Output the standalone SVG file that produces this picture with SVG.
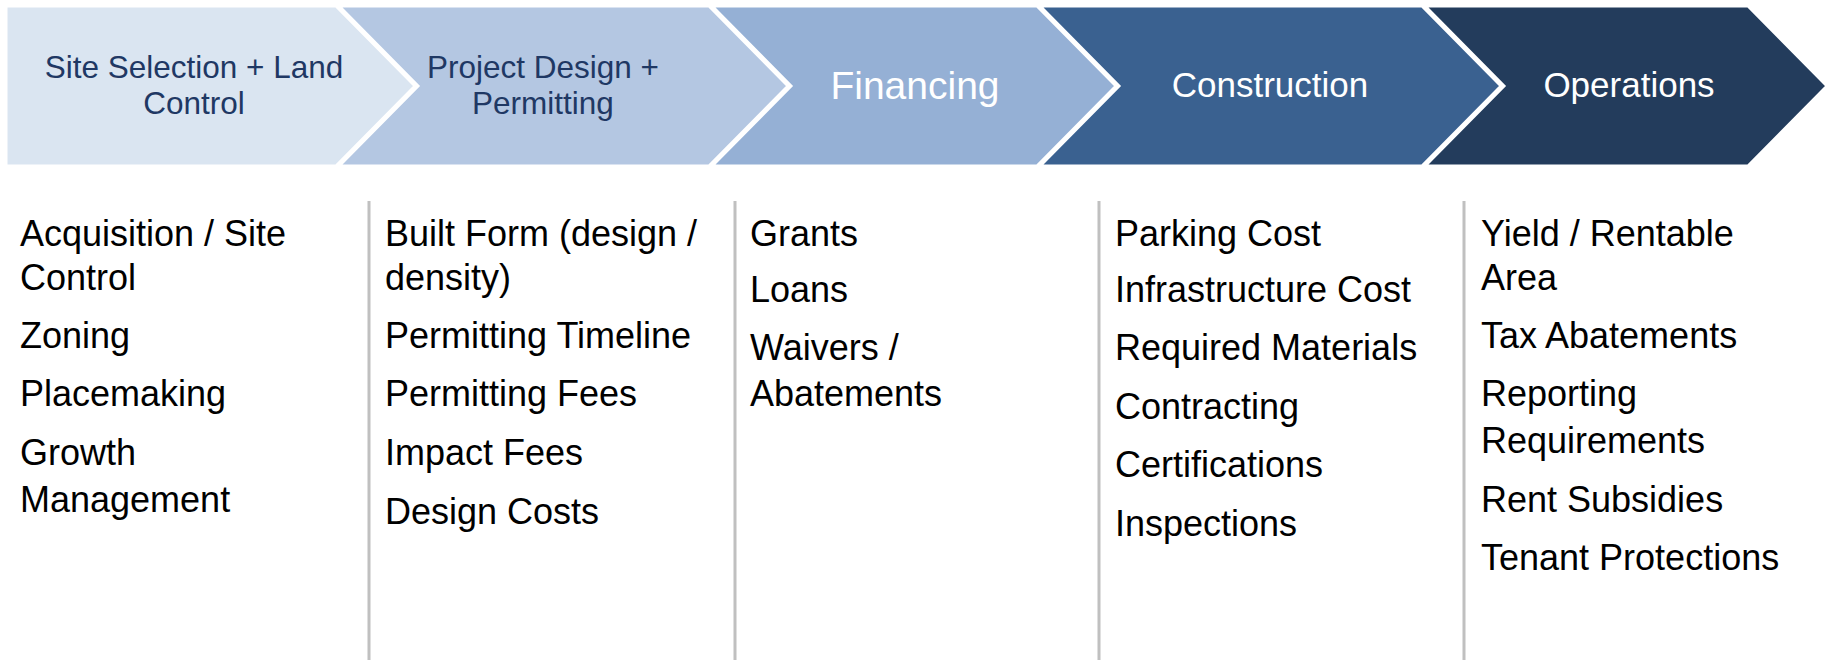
<svg xmlns="http://www.w3.org/2000/svg" width="1831" height="666" viewBox="0 0 1831 666">
<style>
.chev{stroke:#ffffff;stroke-width:3;stroke-linejoin:miter}
.hd{font-family:"Liberation Sans",Arial,sans-serif;text-anchor:middle}
.dark{fill:#1f3864}
.light{fill:#ffffff}
.item{font-family:"Liberation Sans",Arial,sans-serif;font-size:36px;fill:#000000}
.sep{stroke:#c0c0c0;stroke-width:3}
</style>
<rect width="1831" height="666" fill="#ffffff"/>
<g id="stage-site">
<polygon class="chev" fill="#dae5f1" points="6,6 336,6 415,86 336,166 6,166"/>
<text class="hd dark" font-size="31.5" x="194" y="78">Site Selection + Land</text>
<text class="hd dark" font-size="31.5" x="194" y="114">Control</text>
</g>
<g id="stage-design">
<polygon class="chev" fill="#b4c7e2" points="339,6 709,6 788,86 709,166 339,166 418,86"/>
<text class="hd dark" font-size="31.5" x="543" y="78">Project Design +</text>
<text class="hd dark" font-size="31.5" x="543" y="114">Permitting</text>
</g>
<g id="stage-financing">
<polygon class="chev" fill="#95b0d5" points="712,6 1037,6 1116,86 1037,166 712,166 791,86"/>
<text class="hd light" font-size="39" x="915" y="99">Financing</text>
</g>
<g id="stage-construction">
<polygon class="chev" fill="#3a6190" points="1040,6 1422,6 1501,86 1422,166 1040,166 1119,86"/>
<text class="hd light" font-size="35" x="1270" y="97">Construction</text>
</g>
<g id="stage-operations">
<polygon class="chev" fill="#233c5c" points="1425,6 1748,6 1827,86 1748,166 1425,166 1504,86"/>
<text class="hd light" font-size="35" x="1629" y="97">Operations</text>
</g>
<g id="connectors">
<line class="sep" x1="369" y1="201" x2="369" y2="660"/>
<line class="sep" x1="735" y1="201" x2="735" y2="660"/>
<line class="sep" x1="1099" y1="201" x2="1099" y2="660"/>
<line class="sep" x1="1464" y1="201" x2="1464" y2="660"/>
</g>
<g id="list-site">
<text class="item" x="20" y="246">Acquisition / Site</text>
<text class="item" x="20" y="290">Control</text>
<text class="item" x="20" y="348">Zoning</text>
<text class="item" x="20" y="406">Placemaking</text>
<text class="item" x="20" y="465">Growth</text>
<text class="item" x="20" y="512">Management</text>
</g>
<g id="list-design">
<text class="item" x="385" y="246">Built Form (design /</text>
<text class="item" x="385" y="290">density)</text>
<text class="item" x="385" y="348">Permitting Timeline</text>
<text class="item" x="385" y="406">Permitting Fees</text>
<text class="item" x="385" y="465">Impact Fees</text>
<text class="item" x="385" y="524">Design Costs</text>
</g>
<g id="list-financing">
<text class="item" x="750" y="246">Grants</text>
<text class="item" x="750" y="302">Loans</text>
<text class="item" x="750" y="360">Waivers /</text>
<text class="item" x="750" y="406">Abatements</text>
</g>
<g id="list-construction">
<text class="item" x="1115" y="246">Parking Cost</text>
<text class="item" x="1115" y="302">Infrastructure Cost</text>
<text class="item" x="1115" y="360">Required Materials</text>
<text class="item" x="1115" y="419">Contracting</text>
<text class="item" x="1115" y="477">Certifications</text>
<text class="item" x="1115" y="536">Inspections</text>
</g>
<g id="list-operations">
<text class="item" x="1481" y="246">Yield / Rentable</text>
<text class="item" x="1481" y="290">Area</text>
<text class="item" x="1481" y="348">Tax Abatements</text>
<text class="item" x="1481" y="406">Reporting</text>
<text class="item" x="1481" y="453">Requirements</text>
<text class="item" x="1481" y="512">Rent Subsidies</text>
<text class="item" x="1481" y="570">Tenant Protections</text>
</g>
</svg>
